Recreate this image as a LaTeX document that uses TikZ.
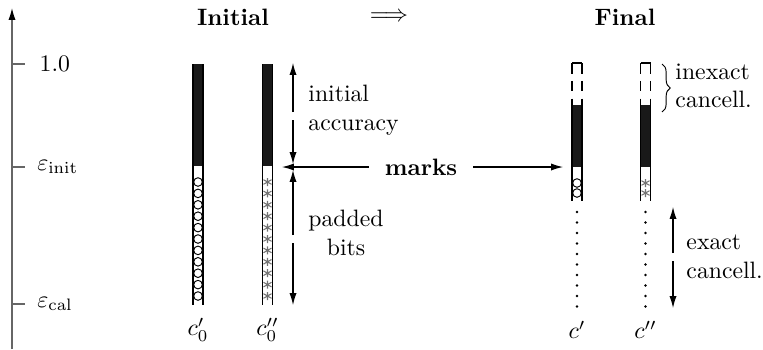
\documentclass[tikz,border=0pt]{standalone}
\usepackage{amsmath,amssymb}
\usepackage{tikz}
\usetikzlibrary{arrows.meta,decorations.pathreplacing,positioning,calc}
\tikzset{
  wall/.style ={draw,line width=0.8pt},
  bar/.style  ={fill=black!90},
  dim/.style  ={draw,line width=0.45pt,-{Latex[length=5pt,width=3pt]}},
  ax/.style   ={draw,black!60,line width=0.5pt},
  bit/.style  ={draw,line width=0.4pt},
  ttl/.style  ={font=\bfseries},
  txt/.style  ={inner sep=0pt,align=left,anchor=west},
  ast/.pic    ={\draw[black!55,line width=0.45pt] (0,-4)--(0,4) (-4,-2.3)--(4,2.3) (-4,2.3)--(4,-2.3);},
}

\begin{document}
\begin{tikzpicture}[x=0.422pt,y=-0.422pt]
\useasboundingbox (0,0) rectangle (763,349);

% axis
\coordinate (ax0) at (12,349);
\coordinate (ax1) at (12,8);
\draw[ax,-{Latex[length=5pt,width=3pt,fill=black,color=black]}] (ax0) -- (ax1);
\foreach \y/\t in {64/one,167/init,304/cal}
  \draw[ax] (12,\y) -- (25,\y) coordinate (tk\t);
\node[right=6pt of tkone,inner sep=0pt] (lone) {1.0};
\node[right=5pt of tkinit,inner sep=0pt] (linit) {$\varepsilon_{\mathrm{init}}$};
\node[right=5pt of tkcal,inner sep=0pt] (lcal) {$\varepsilon_{\mathrm{cal}}$};

% titles
\node[ttl] (ini) at (233,17) {Initial};
\node (impl) at (389,17) {$\Longrightarrow$};
\node[ttl] (fin) at (625,17) {Final};

% initial columns
\fill[bar] (193,64) rectangle (203,166);
\draw[wall] (193,64) -- (193,305) (203,64) -- (203,305);
\foreach \y in {182,193.4,...,298} \draw[bit] (198,\y) circle (4.3);
\fill[bar] (262.5,64) rectangle (272.5,166);
\draw[wall] (262.5,64) -- (262.5,305) (272.5,64) -- (272.5,305);
\foreach \y in {182,193.4,...,298} \pic at (267.5,\y) {ast};

% final columns
\foreach \x in {577,645.5} {
  \draw[wall,dash pattern=on 4.5pt off 3pt] (\x-5,63) -- (\x-5,105) (\x+5,63) -- (\x+5,105);
  \draw[wall] (\x-5,63) -- (\x+5,63);
  \fill[bar] (\x-5,105) rectangle (\x+5,167);
  \draw[wall] (\x-5,105) -- (\x-5,201) (\x+5,105) -- (\x+5,201);
  \foreach \y in {212,222.5,...,308} \fill (\x,\y) circle (1.3);
}
\foreach \y in {183,193} \draw[bit] (577,\y) circle (4.3);
\foreach \y in {183,193} \pic at (645.5,\y) {ast};

% column names
\node (n1) at (198,330) {$c_0'$};
\node (n2) at (267.5,330) {$c_0''$};
\node (n3) at (577,330) {$c'$};
\node (n4) at (645.5,330) {$c''$};

% dimensions
\coordinate (accT) at (293,63);
\coordinate (accA) at (293,112);
\coordinate (accB) at (293,120);
\coordinate (accE) at (293,164);
\coordinate (padT) at (293,170);
\coordinate (padA) at (293,235);
\coordinate (padB) at (293,243);
\coordinate (padE) at (293,305);
\draw[dim] (accA) -- (accT);
\draw[dim] (accB) -- (accE);
\draw[dim] (padA) -- (padT);
\draw[dim] (padB) -- (padE);
\node[txt] (acc) at (308,110) {initial\\accuracy};
\node[inner sep=0pt,align=center] (pad) at (346,233) {padded\\bits};

\coordinate (exT) at (673,207);
\coordinate (exA) at (673,253);
\coordinate (exB) at (673,261);
\coordinate (exE) at (673,308);
\draw[dim] (exA) -- (exT);
\draw[dim] (exB) -- (exE);
\node[txt] (exa) at (686,257) {exact\\cancell.};

\coordinate (brT) at (662,64);
\coordinate (brB) at (662,112);
\draw[decorate,decoration={brace,amplitude=3.5pt}] (brT) -- (brB);
\node[txt] (inx) at (675,86) {inexact\\cancell.};

% marks
\coordinate (mkL) at (282,167);
\coordinate (mkR) at (563,167);
\node[ttl,inner xsep=6.5pt] (mk) at (421,167) {marks};
\draw[dim] (mk) -- (mkL);
\draw[dim] (mk) -- (mkR);
\end{tikzpicture}
\end{document}
